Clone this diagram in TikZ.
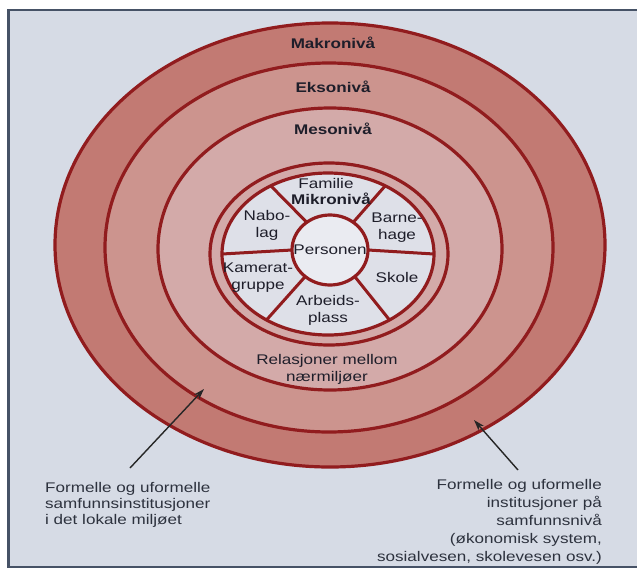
\documentclass[tikz,border=0pt]{standalone}
\usepackage{fontspec}
\setmainfont{Liberation Sans}[FakeStretch=1.22]
\usetikzlibrary{shapes.geometric,arrows.meta}
\definecolor{bgc}{RGB}{214,219,229}
\definecolor{makroc}{RGB}{194,122,115}
\definecolor{eksoc}{RGB}{204,148,142}
\definecolor{mesoc}{RGB}{211,170,169}
\definecolor{mikroc}{RGB}{222,224,232}
\definecolor{personc}{RGB}{234,235,241}
\definecolor{ringc}{RGB}{145,28,30}
\definecolor{framec}{RGB}{70,82,102}
\definecolor{txtc}{RGB}{30,30,42}
\definecolor{captc}{RGB}{45,50,62}
\begin{document}
\begin{tikzpicture}[x=1pt,y=-1pt,
  ringel/.style={ellipse, draw=ringc, line width=3.2pt, inner sep=0pt, outer sep=0pt},
  lbl/.style={inner sep=0pt, align=center, text=txtc, font=\fontsize{14}{17}\selectfont},
  blbl/.style={lbl, font=\fontsize{14}{17}\selectfont\bfseries},
  capt/.style={inner sep=0pt, text=captc},
  divider/.style={draw=ringc, line width=3pt},
  arr/.style={draw=black!85, line width=1.4pt, -{Stealth[length=11pt,width=7pt]}}]
\useasboundingbox (0,0) rectangle (637,568);
\fill[white] (0,0) rectangle (637,568);
\fill[bgc] (8.5,10) rectangle (637,567);
\draw[framec, line width=2.2pt] (637,10) -- (8.5,10) -- (8.5,567) -- (637,567);
% rings
\node[ringel, fill=makroc, minimum width=550pt, minimum height=444pt] (makro) at (330,245) {};
\node[ringel, fill=eksoc, minimum width=448pt, minimum height=369pt] (ekso) at (329,247.5) {};
\node[ringel, fill=mesoc, minimum width=344pt, minimum height=282pt] (meso) at (330,249) {};
\node[ringel, fill=mesoc, minimum width=238pt, minimum height=182pt] (mikroout) at (329,254) {};
\node[ringel, fill=mikroc, minimum width=212pt, minimum height=162pt] (mikroin) at (328,254) {};
\node[ringel, fill=personc, minimum width=76pt, minimum height=70pt] (person) at (330,250) {};
% dividers
\foreach \a in {0,50,130,180,227,313}
  \draw[divider] (person.\a) -- (mikroin.\a);
% labels
\node[blbl] (makrolbl) at (333,43) {Makronivå};
\node[blbl] (eksolbl) at (333,87) {Eksonivå};
\node[blbl] (mesolbl) at (333,129) {Mesonivå};
\node[lbl] (familie) at (326,183) {Familie};
\node[blbl] (mikrolbl) at (331,199) {Mikronivå};
\node[lbl] (nabolag) at (267,225) {Nabo-\\lag};
\node[lbl] (barnehage) at (397,228) {Barne-\\hage};
\node[lbl] (personlbl) at (330,250) {Personen};
\node[lbl] (kamerat) at (258,278) {Kamerat-\\gruppe};
\node[lbl] (skole) at (397,277) {Skole};
\node[lbl] (arbeid) at (328,310) {Arbeids-\\plass};
\node[lbl] (relasjon) at (327,369) {Relasjoner mellom\\nærmiljøer};
% captions
\node[capt, anchor=north west, align=left, font=\fontsize{14}{16}\selectfont] (lefttxt) at (45,482)
  {Formelle og uformelle\\samfunnsinstitusjoner\\i det lokale miljøet};
\node[capt, anchor=north east, align=right, font=\fontsize{14}{18}\selectfont] (righttxt) at (602,479)
  {Formelle og uformelle\\institusjoner på\\samfunnsnivå\\(økonomisk system,\\sosialvesen, skolevesen osv.)};
% arrows
\coordinate (ltail) at (130,468);
\coordinate (lhead) at (204,389);
\coordinate (rtail) at (518,470);
\coordinate (rhead) at (474,420);
\draw[arr] (ltail) -- (lhead);
\draw[arr] (rtail) -- (rhead);
\end{tikzpicture}
\end{document}
